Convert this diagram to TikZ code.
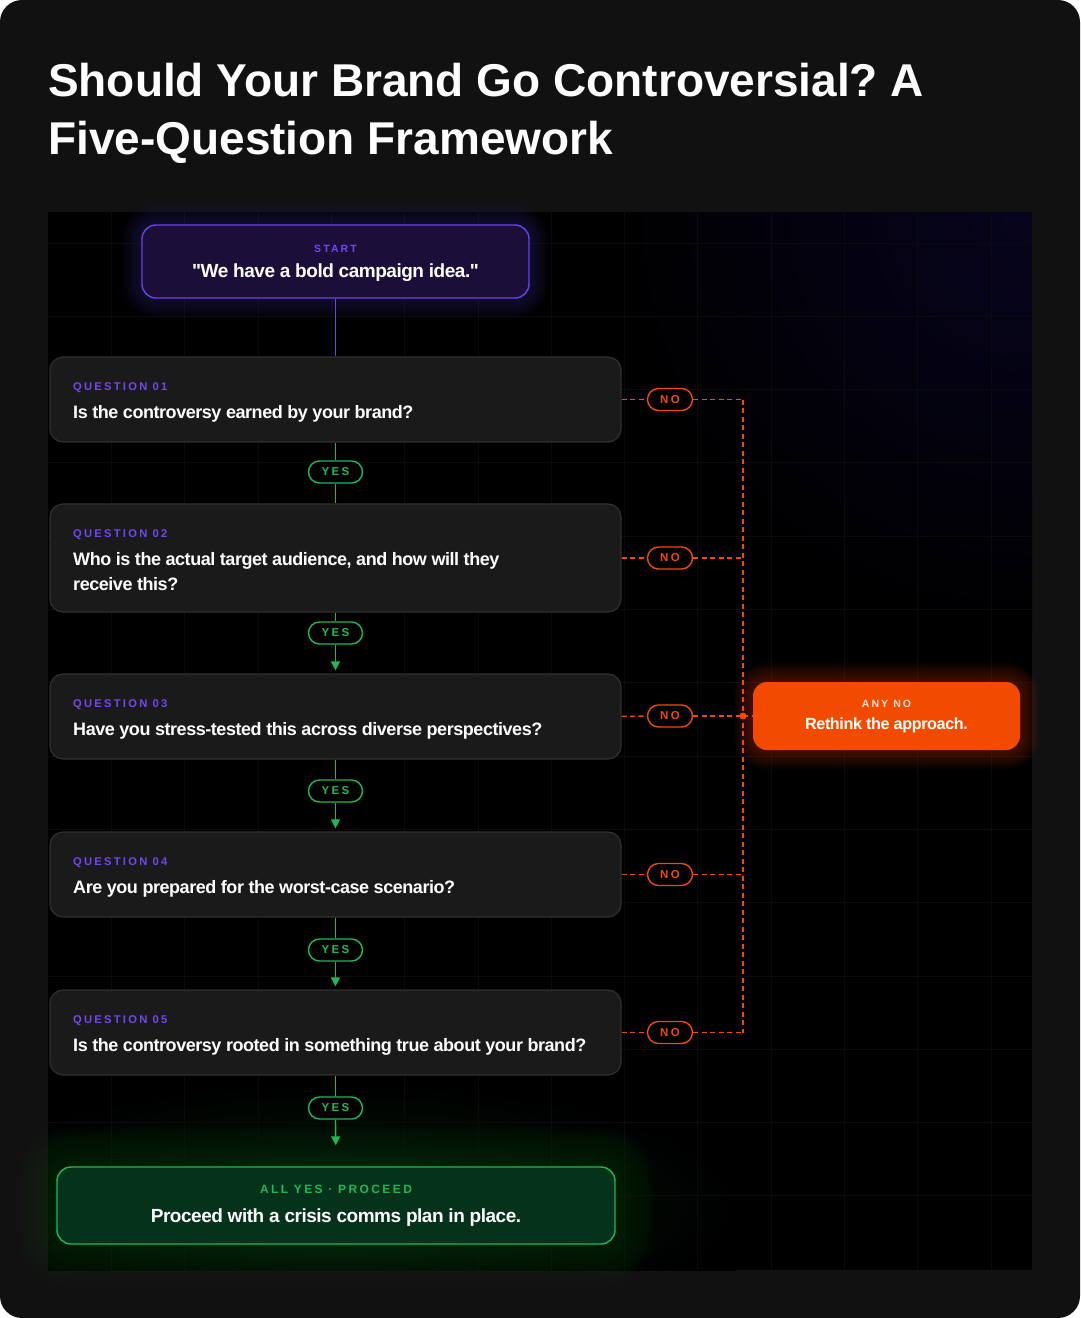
\documentclass[tikz,border=0pt]{standalone}
\usepackage{fontspec}
\setmainfont{Liberation Sans}
\newfontfamily\bodyfont{Liberation Sans}[LetterSpace=-2.5]
\newfontfamily\trackfont{Liberation Sans}[LetterSpace=20]
\usetikzlibrary{arrows.meta,calc}
\pgfdeclarelayer{back}
\pgfdeclarelayer{glow}
\pgfsetlayers{back,glow,main}
\frenchspacing
\definecolor{pagebg}{HTML}{111111}
\definecolor{gridc}{HTML}{0B0B0B}
\definecolor{qfill}{HTML}{1A1A1A}
\definecolor{qborder}{HTML}{303030}
\definecolor{purp}{HTML}{7347F0}
\definecolor{purpborder}{HTML}{6B42E6}
\definecolor{startfill}{HTML}{1B0F3A}
\definecolor{grn}{HTML}{20B857}
\definecolor{finalfill}{HTML}{05321A}
\definecolor{org}{HTML}{F24B00}
\definecolor{peach}{HTML}{FFE3D4}
\definecolor{topglow}{HTML}{07041E}
\definecolor{botglow}{HTML}{041C0C}
\tikzset{
  qbox/.style={draw=qborder, line width=1.2pt, fill=qfill, rounded corners=13pt, minimum width=571pt, inner sep=0pt},
  startbox/.style={draw=purpborder, line width=1.4pt, fill=startfill, rounded corners=14pt, minimum width=387pt, minimum height=73pt, inner sep=0pt},
  finalbox/.style={draw=grn, line width=1.4pt, fill=finalfill, rounded corners=14pt, minimum width=558pt, minimum height=77pt, inner sep=0pt},
  rethinkbox/.style={fill=org, rounded corners=14pt, minimum width=267pt, minimum height=68pt, inner sep=0pt},
  pillbase/.style={line width=1.4pt, fill=black, rounded corners=11pt, minimum height=22pt, inner sep=0pt, font=\trackfont\bfseries\fontsize{11.5}{12}\selectfont},
  yespill/.style={pillbase, draw=grn, text=grn, minimum width=54pt},
  nopill/.style={pillbase, draw=org, text=org, minimum width=45pt},
  qlabel/.style={anchor=base west, inner sep=0pt, text=purp, font=\trackfont\bfseries\fontsize{11.2}{13}\selectfont},
  qtext/.style={anchor=base west, inner sep=0pt, text=white, font=\bodyfont\bfseries\fontsize{18}{22}\selectfont},
  clabel/.style={anchor=base, inner sep=0pt, font=\trackfont\bfseries\fontsize{10.5}{12}\selectfont},
  ctext/.style={anchor=base, inner sep=0pt, text=white, font=\bodyfont\bfseries\fontsize{19}{22}\selectfont},
  yesline/.style={draw=grn, draw opacity=1, line width=1.4pt},
  yesarrow/.style={yesline, -{Triangle[width=9pt,length=9pt]}},
  noline/.style={draw=org, draw opacity=1, line width=1.5pt, dash pattern=on 5pt off 3.5pt},
  startline/.style={draw=purpborder, draw opacity=1, line width=1.5pt},
}
\begin{document}
\begin{tikzpicture}[x=1pt,y=-1pt]
\useasboundingbox (0,0) rectangle (1080,1318);

% ---------- title ----------
\node[anchor=base west, inner sep=0pt, text=white, font=\bfseries\fontsize{46}{52}\selectfont] (title1) at (48,96) {Should Your Brand Go Controversial? A};
\node[anchor=base west, inner sep=0pt, text=white, font=\bfseries\fontsize{46}{52}\selectfont] (title2) at (48,154) {Five-Question Framework};

% ---------- nodes ----------
\node[startbox] (start) at (335.5,261.5) {};
\node[clabel, text=purp] (startlbl) at (335.5,252) {START};
\node[ctext] (starttxt) at (335.5,277) {"We have a bold campaign idea."};

\node[qbox, minimum height=85pt] (q1) at (335.5,399.5) {};
\node[qlabel] (q1l) at (73,390) {QUESTION 01};
\node[qtext] (q1t) at (73,418) {Is the controversy earned by your brand?};

\node[qbox, minimum height=108pt] (q2) at (335.5,558) {};
\node[qlabel] (q2l) at (73,537) {QUESTION 02};
\node[qtext] (q2t) at (73,565) {Who is the actual target audience, and how will they};
\node[qtext] (q2u) at (73,590) {receive this?};

\node[qbox, minimum height=85pt] (q3) at (335.5,716.5) {};
\node[qlabel] (q3l) at (73,707) {QUESTION 03};
\node[qtext] (q3t) at (73,735) {Have you stress-tested this across diverse perspectives?};

\node[qbox, minimum height=85pt] (q4) at (335.5,874.5) {};
\node[qlabel] (q4l) at (73,865) {QUESTION 04};
\node[qtext] (q4t) at (73,893) {Are you prepared for the worst-case scenario?};

\node[qbox, minimum height=85pt] (q5) at (335.5,1032.5) {};
\node[qlabel] (q5l) at (73,1023) {QUESTION 05};
\node[qtext] (q5t) at (73,1051) {Is the controversy rooted in something true about your brand?};

\node[finalbox] (final) at (336,1205.5) {};
\node[clabel, text=grn, font=\trackfont\bfseries\fontsize{12}{14}\selectfont] (finallbl) at (336,1193) {ALL YES {\textperiodcentered} PROCEED};
\node[ctext] (finaltxt) at (336,1222) {Proceed with a crisis comms plan in place.};

\node[rethinkbox] (rethink) at (886.5,716) {};
\node[clabel, text=peach] (rethinklbl) at (886.5,707) {ANY NO};
\node[ctext, font=\bodyfont\bfseries\fontsize{16.2}{20}\selectfont] (rethinktxt) at (886.5,729) {Rethink the approach.};

% yes pills
\node[yespill] (y1) at (335.5,472) {YES};
\node[yespill] (y2) at (335.5,633) {YES};
\node[yespill] (y3) at (335.5,791) {YES};
\node[yespill] (y4) at (335.5,950) {YES};
\node[yespill] (y5) at (335.5,1108) {YES};

% no pills
\node[nopill] (n1) at (670,399.5) {NO};
\node[nopill] (n2) at (670,558) {NO};
\node[nopill] (n3) at (670,716) {NO};
\node[nopill] (n4) at (670,874.5) {NO};
\node[nopill] (n5) at (670,1032.5) {NO};

\coordinate (bus) at (743,716);

% ---------- connectors ----------
\draw[startline] (start.south) -- (q1.north);

\draw[yesline] (q1.south) -- (y1.north);
\draw[yesline] (y1.south) -- (q2.north);
\draw[yesline] (q2.south) -- (y2.north);
\draw[yesarrow, shorten >=3pt] (y2.south) -- (q3.north);
\draw[yesline] (q3.south) -- (y3.north);
\draw[yesarrow, shorten >=3pt] (y3.south) -- (q4.north);
\draw[yesline] (q4.south) -- (y4.north);
\draw[yesarrow, shorten >=3pt] (y4.south) -- (q5.north);
\draw[yesline] (q5.south) -- (y5.north);
\draw[yesarrow, shorten >=21pt] (y5.south) -- (final.north);

\foreach \n/\q in {n1/q1,n2/q2,n3/q3,n4/q4,n5/q5} {
  \draw[noline] (\q.east) -- (\n.west);
  \draw[noline] (\n.east) -- (\n.east -| bus);
}
\draw[noline] (n1.east -| bus) -- (n5.east -| bus);
\draw[noline] (bus) -- (rethink.west);
\fill[org] (bus) circle (3.5pt);

% ---------- background layer ----------
\begin{pgfonlayer}{back}
  \fill[white] (0,0) rectangle (1080,1318);
  \fill[pagebg, rounded corners=22pt] (0,0) rectangle (1080,1318);
  \fill[black] (48,212) rectangle (1032,1270);
  \begin{scope}
    \clip (48,212) rectangle (1032,1270);
    \shade[inner color=topglow, outer color=black] (1032-420,212-420) rectangle (1032+420,212+420);
    \shade[inner color=botglow, outer color=black] (336-400,1205-120) rectangle (336+400,1205+120);
    \foreach \k in {0,...,12} \draw[gridc, line width=1pt] (111.5+73.3*\k,212) -- (111.5+73.3*\k,1270);
    \foreach \k in {0,...,13} \draw[gridc, line width=1pt] (48,243+73.3*\k) -- (1032,243+73.3*\k);
  \end{scope}
\end{pgfonlayer}

% ---------- glows ----------
\begin{pgfonlayer}{glow}
  \begin{scope}
  \foreach \i in {1,...,12} {
    \pgfmathsetmacro\rr{14+\i*1.6}
    \fill[org, fill opacity=0.028, rounded corners=\rr pt] ($(rethink.south west)+(-\i*1.6,\i*1.6)$) rectangle ($(rethink.north east)+(\i*1.6,-\i*1.6)$);
    \fill[purpborder, fill opacity=0.02, rounded corners=\rr pt] ($(start.south west)+(-\i*1.6,\i*1.6)$) rectangle ($(start.north east)+(\i*1.6,-\i*1.6)$);
  }
  \foreach \i in {1,...,16} {
    \pgfmathsetmacro\rr{14+\i*2.5}
    \fill[grn, fill opacity=0.012, rounded corners=\rr pt] ($(final.south west)+(-\i*2.5,\i*2.5)$) rectangle ($(final.north east)+(\i*2.5,-\i*2.5)$);
  }
  \end{scope}
\end{pgfonlayer}
\end{tikzpicture}
\end{document}
